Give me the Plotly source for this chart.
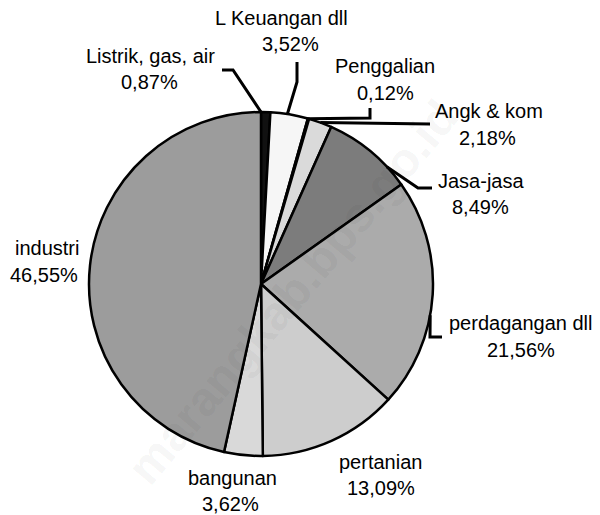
import math
import plotly.graph_objects as go

# ---- data ----
sectors = ["Listrik, gas, air", "L Keuangan dll", "Penggalian", "Angk & kom",
           "Jasa-jasa", "perdagangan dll", "pertanian", "bangunan", "industri"]
shares = [0.87, 3.52, 0.12, 2.18, 8.49, 21.56, 13.09, 3.62, 46.55]
pct_labels = ["0,87%", "3,52%", "0,12%", "2,18%", "8,49%", "21,56%", "13,09%", "3,62%", "46,55%"]

# ---- style ----
colors = ["#111111", "#f6f6f6", "#e6e6e6", "#dadada", "#7c7c7c",
          "#ababab", "#cdcdcd", "#d9d9d9", "#9c9c9c"]
W, H = 600, 515
cx, cy, R = 261, 284, 172

# label positions (pixels): name center, percent center
name_pos = [(150, 56), (281, 18), (385, 66), (489, 111), (481, 181),
            (520, 323), (380, 462), (232, 478), (47, 248)]
pct_pos = [(149, 82), (290, 44), (385, 93), (487, 138), (480, 207),
           (521, 350), (381, 488), (230, 504), (44, 275)]
# leader line: anchor fraction inside slice and elbow points (pixels)
anchor_frac = [0.0, 0.45, 0.5, 0.5, 0.75, 0.59, None, None, None]
elbows = [[(233, 70), (222, 70)],
          [(297, 82), (297, 62)],
          [(370, 118), (370, 108)],
          [(430, 124)],
          [(418, 188), (432, 188)],
          [(430, 337), (442, 337)],
          None, None, None]

fig = go.Figure()
fig.add_trace(go.Pie(
    labels=sectors, values=shares, sort=False, direction="clockwise", rotation=0,
    textinfo="none", hoverinfo="label+percent",
    marker=dict(colors=colors, line=dict(color="#000000", width=2.5)),
    domain=dict(x=[(cx - R) / W, (cx + R) / W], y=[1 - (cy + R) / H, 1 - (cy - R) / H]),
    showlegend=False,
))

font = dict(family="Liberation Sans, Arial, sans-serif", size=20, color="#000000")
total = sum(shares)
cum = 0.0
shapes = []
annotations = []
for i, v in enumerate(shares):
    annotations.append(dict(x=name_pos[i][0], y=name_pos[i][1], xref="x", yref="y",
                            text=sectors[i], showarrow=False, font=font,
                            xanchor="center", yanchor="middle"))
    annotations.append(dict(x=pct_pos[i][0], y=pct_pos[i][1], xref="x", yref="y",
                            text=pct_labels[i], showarrow=False, font=font,
                            xanchor="center", yanchor="middle"))
    if elbows[i] is not None:
        th = 2 * math.pi * (cum + v * anchor_frac[i]) / total
        sx, sy = cx + R * math.sin(th), cy - R * math.cos(th)
        pts = [(sx, sy)] + elbows[i]
        path = "M " + " L ".join(f"{x:.1f},{y:.1f}" for x, y in pts)
        shapes.append(dict(type="path", path=path, xref="x", yref="y",
                           line=dict(color="#000000", width=3)))
    cum += v

# faint watermark
annotations.append(dict(x=292, y=292, xref="x", yref="y", text="marangkab.bps.go.id",
                        showarrow=False, textangle=-50,
                        font=dict(family="Liberation Sans, Arial, sans-serif", size=48,
                                  color="rgba(0,0,0,0.05)", weight="bold")))

fig.update_layout(
    width=W, height=H, margin=dict(l=0, r=0, t=0, b=0),
    paper_bgcolor="#ffffff", plot_bgcolor="rgba(0,0,0,0)",
    xaxis=dict(range=[0, W], visible=False, fixedrange=True),
    yaxis=dict(range=[H, 0], visible=False, fixedrange=True),
    shapes=shapes, annotations=annotations,
)
fig.write_html("out.html", config={"displayModeBar": False},
               post_script="document.body.style.margin='0';document.body.style.padding='0';")
